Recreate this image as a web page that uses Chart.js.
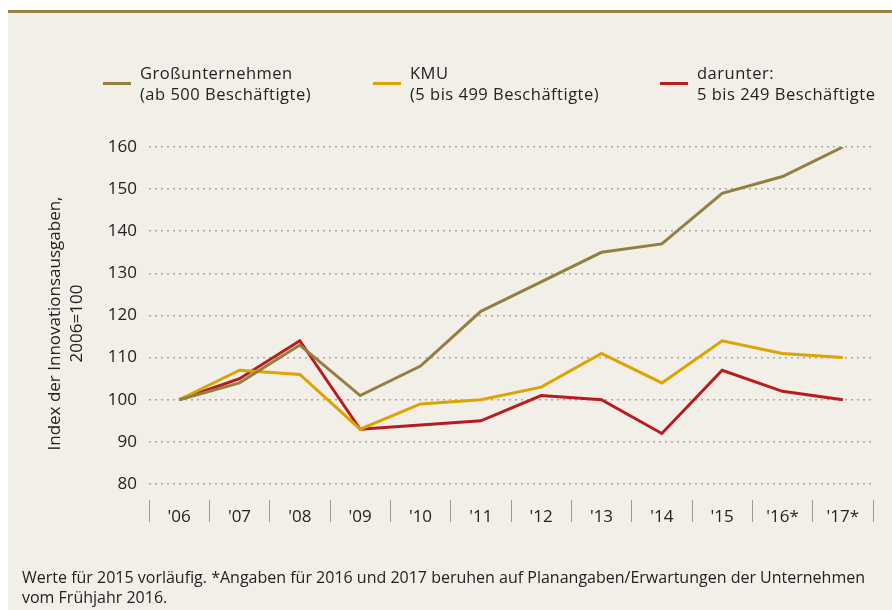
<!DOCTYPE html>
<html><head><meta charset="utf-8">
<script src="https://cdn.jsdelivr.net/npm/chart.js@4"></script>
<style>
html,body{margin:0;padding:0;background:#fff;width:892px;height:610px;overflow:hidden;}
#panel{position:absolute;left:8px;top:10px;width:884px;height:600px;background:#f2efe8;border-top:3px solid #958540;box-sizing:border-box;}
#wrap{position:absolute;left:0;top:0;width:892px;height:610px;}
.leg{position:absolute;top:62px;font-family:"Open Sans";font-size:16.5px;letter-spacing:0.5px;color:#222;line-height:21px;white-space:nowrap;}
.leg i{position:absolute;left:-37px;top:20px;width:28px;height:3px;}
#note{position:absolute;left:22px;top:567px;font-family:"Open Sans";font-size:16px;color:#222;line-height:20px;white-space:nowrap;}
</style></head>
<body>
<div id="panel"></div>
<div id="wrap"><canvas id="c" width="892" height="610"></canvas></div>
<div id="legend"></div>
<div id="note">Werte für 2015 vorläufig. *Angaben für 2016 und 2017 beruhen auf Planangaben/Erwartungen der Unternehmen<br>vom Frühjahr 2016.</div>
<script>
const categories = ["'06","'07","'08","'09","'10","'11","'12","'13","'14","'15","'16*","'17*"];
const grossunternehmen = [100,104,113,101,108,121,128,135,137,149,153,160];
const kmu = [100,107,106,93,99,100,103,111,104,114,111,110];
const kleinunternehmen = [100,105,114,93,94,95,101,100,92,107,102,100];
const yTicks = [80,90,100,110,120,130,140,150,160];
const seriesNames = [
  ["Großunternehmen","(ab 500 Beschäftigte)"],
  ["KMU","(5 bis 499 Beschäftigte)"],
  ["darunter:","5 bis 249 Beschäftigte"]
];
const seriesColors = ["#938040","#dba400","#b71c20"];
const axisTitle = ["Index der Innovationsausgaben,","2006=100"];

// HTML legend
const legendX = [140,410,697];
const legendEl = document.getElementById('legend');
seriesNames.forEach((lines,i)=>{
  const d = document.createElement('div');
  d.className='leg';
  d.style.left = legendX[i]+'px';
  const sw = document.createElement('i');
  sw.style.background = seriesColors[i];
  d.appendChild(sw);
  lines.forEach((t,j)=>{ if(j) d.appendChild(document.createElement('br')); d.appendChild(document.createTextNode(t)); });
  legendEl.appendChild(d);
});

const values = [grossunternehmen,kmu,kleinunternehmen];
const font17 = {family:'Open Sans',size:17,lineHeight:1.3};
new Chart(document.getElementById('c'),{
  type:'line',
  data:{
    labels:categories,
    datasets: values.map((v,i)=>({
      label: seriesNames[i].join(' '),
      data: v,
      borderColor: seriesColors[i],
      backgroundColor: seriesColors[i],
      borderWidth: 3,
      pointRadius: 0,
      tension: 0,
      fill:false,
      borderJoinStyle:'miter'
    }))
  },
  options:{
    responsive:false,
    animation:false,
    devicePixelRatio:1,
    layout:{padding:{top:147,left:44,right:19,bottom:80}},
    plugins:{legend:{display:false},tooltip:{enabled:false}},
    scales:{
      x:{
        offset:true,
        grid:{drawOnChartArea:false,drawTicks:true,tickLength:22,color:'#9c9a94',lineWidth:1,offset:true},
        border:{display:false},
        ticks:{padding:-16,color:'#222',font:font17,maxRotation:0,autoSkip:false},
        afterFit:(s)=>{s.height=30;}
      },
      y:{
        min:76.2,max:160,
        afterBuildTicks:(s)=>{s.ticks = yTicks.map(v=>({value:v}));},
        grid:{drawTicks:false,color:'#a9a7a2',lineWidth:1.5},
        border:{display:false,dash:[2,4]},
        ticks:{padding:12,color:'#222',font:font17},
        title:{display:true,text:axisTitle,color:'#222',padding:{top:0,bottom:0},font:{family:'Open Sans',size:17,lineHeight:1.3}},
        afterFit:(s)=>{s.width=105;}
      }
    }
  }
});
</script>
</body></html>
